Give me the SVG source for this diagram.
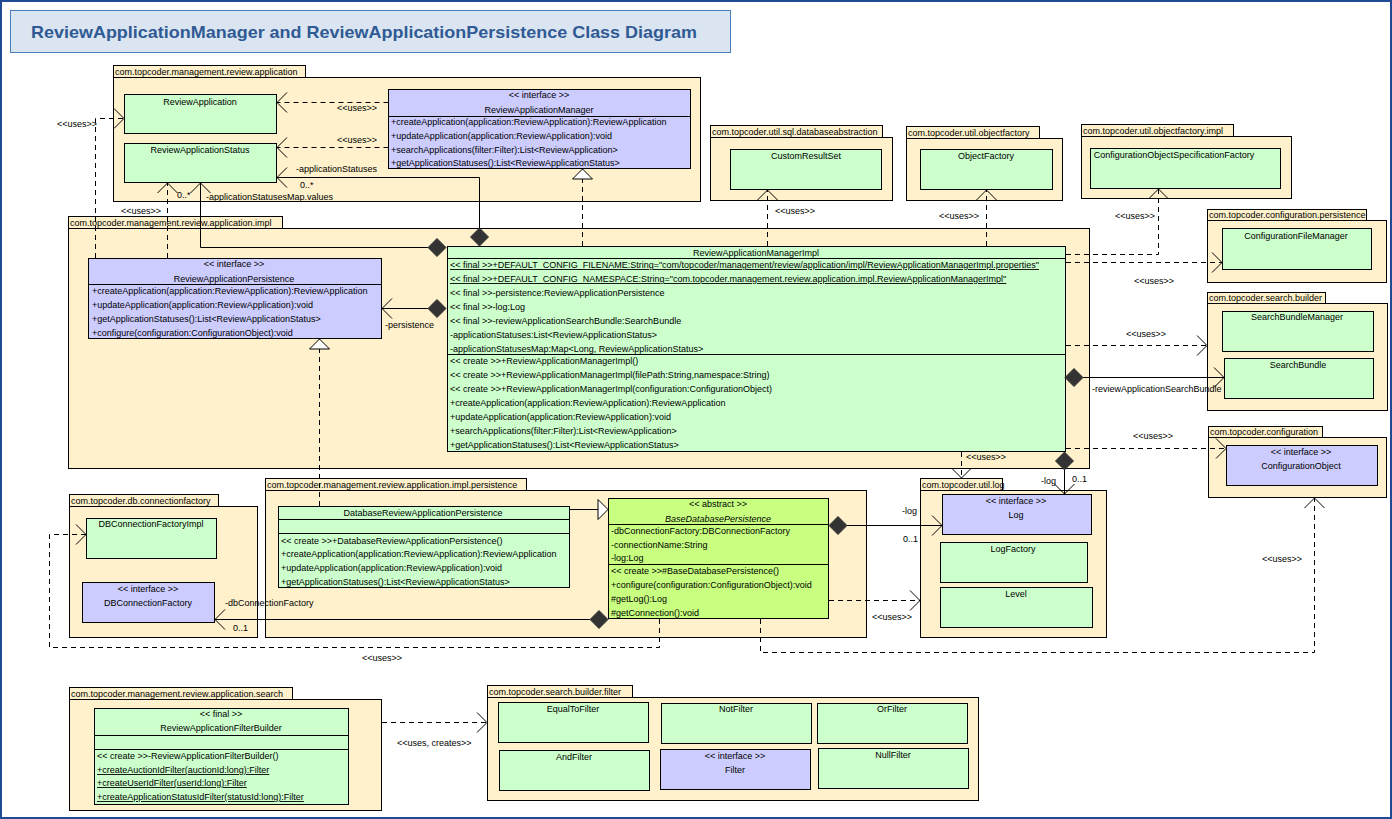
<svg xmlns="http://www.w3.org/2000/svg" width="1392" height="819" viewBox="0 0 1392 819">
<defs>
<style>
.pkg{fill:#fef1cb;stroke:#000;stroke-width:1}
.cls{fill:#ccffcc;stroke:#000;stroke-width:1}
.ifc{fill:#ccccff;stroke:#000;stroke-width:1}
.abs{fill:#c8ff80;stroke:#000;stroke-width:1}
.sep{stroke:#000;stroke-width:1}
text{font-family:"Liberation Sans",Arial,sans-serif;font-size:9px;fill:#000}
.c{text-anchor:middle}
.u{text-decoration:underline}
.i{font-style:italic}
.dash{stroke:#000;fill:none;stroke-width:1;stroke-dasharray:5,4}
.solid{stroke:#000;fill:none;stroke-width:1}
.dia{fill:#333;stroke:#333}
</style>
<marker id="open" markerUnits="userSpaceOnUse" markerWidth="12" markerHeight="24" viewBox="0 0 12 24" refX="11" refY="12" orient="auto">
<path d="M1,2 L11,12 L1,22" fill="none" stroke="#000" stroke-width="1"/>
</marker>
<marker id="tri" markerUnits="userSpaceOnUse" markerWidth="12" markerHeight="24" viewBox="0 0 12 24" refX="11" refY="12" orient="auto">
<path d="M1,2 L11,12 L1,22 Z" fill="#fff" stroke="#000" stroke-width="1"/>
</marker>
</defs>
<rect x="0" y="0" width="1392" height="819" fill="#fff"/>
<rect x="1" y="1" width="1390" height="817" fill="none" stroke="#1f4a94" stroke-width="2"/>
<g id="title">
<rect x="10.5" y="10.5" width="720" height="42" fill="#dbe5f1" stroke="#4a7ebb"/>
<text x="31" y="38" style="font-size:17px;font-weight:bold;fill:#2f5a94" textLength="666" lengthAdjust="spacingAndGlyphs">ReviewApplicationManager and ReviewApplicationPersistence Class Diagram</text>
</g>

<g id="pkg-review-application">
<rect class="pkg" x="113.5" y="65.5" width="192" height="12"/>
<rect class="pkg" x="113.5" y="77.5" width="587" height="124"/>
<text x="115" y="75">com.topcoder.management.review.application</text>
</g>
<g id="pkg-impl">
<rect class="pkg" x="68.5" y="216.5" width="214" height="12"/>
<rect class="pkg" x="68.5" y="228.5" width="1021" height="240"/>
<text x="70" y="226">com.topcoder.management.review.application.impl</text>
</g>
<g id="pkg-databaseabstraction">
<rect class="pkg" x="710.5" y="125.5" width="172" height="12"/>
<rect class="pkg" x="710.5" y="137.5" width="182" height="63"/>
<text x="712" y="135">com.topcoder.util.sql.databaseabstraction</text>
</g>
<g id="pkg-objectfactory">
<rect class="pkg" x="906.5" y="126.5" width="133" height="12"/>
<rect class="pkg" x="906.5" y="138.5" width="156" height="62"/>
<text x="908" y="136">com.topcoder.util.objectfactory</text>
</g>
<g id="pkg-objectfactory-impl">
<rect class="pkg" x="1081.5" y="124.5" width="152" height="12"/>
<rect class="pkg" x="1081.5" y="136.5" width="210" height="62"/>
<text x="1083" y="134">com.topcoder.util.objectfactory.impl</text>
</g>
<g id="pkg-configuration-persistence">
<rect class="pkg" x="1207.5" y="209.5" width="159" height="11"/>
<rect class="pkg" x="1207.5" y="220.5" width="179" height="62"/>
<text x="1209" y="218">com.topcoder.configuration.persistence</text>
</g>
<g id="pkg-search-builder">
<rect class="pkg" x="1207.5" y="292.5" width="118" height="11"/>
<rect class="pkg" x="1207.5" y="303.5" width="180" height="107"/>
<text x="1209" y="301">com.topcoder.search.builder</text>
</g>
<g id="pkg-configuration">
<rect class="pkg" x="1208.5" y="426.5" width="114" height="11"/>
<rect class="pkg" x="1208.5" y="437.5" width="178" height="60"/>
<text x="1210" y="435">com.topcoder.configuration</text>
</g>
<g id="pkg-log">
<rect class="pkg" x="920.5" y="478.5" width="82" height="12"/>
<rect class="pkg" x="920.5" y="490.5" width="186" height="147"/>
<text x="922" y="488">com.topcoder.util.log</text>
</g>
<g id="pkg-persistence">
<rect class="pkg" x="265.5" y="478.5" width="261" height="12"/>
<rect class="pkg" x="265.5" y="490.5" width="601" height="147"/>
<text x="267" y="488">com.topcoder.management.review.application.impl.persistence</text>
</g>
<g id="pkg-connectionfactory">
<rect class="pkg" x="69.5" y="494.5" width="149" height="12"/>
<rect class="pkg" x="69.5" y="506.5" width="188" height="131"/>
<text x="71" y="504">com.topcoder.db.connectionfactory</text>
</g>
<g id="pkg-search">
<rect class="pkg" x="69.5" y="687.5" width="223" height="12"/>
<rect class="pkg" x="69.5" y="699.5" width="312" height="111"/>
<text x="71" y="697">com.topcoder.management.review.application.search</text>
</g>
<g id="pkg-filter">
<rect class="pkg" x="487.5" y="685.5" width="145" height="12"/>
<rect class="pkg" x="487.5" y="697.5" width="491" height="103"/>
<text x="489" y="695">com.topcoder.search.builder.filter</text>
</g>

<g id="ReviewApplication">
<rect class="cls" x="124.5" y="94.5" width="152" height="39"/>
<text class="c" x="200" y="105">ReviewApplication</text>
</g>
<g id="ReviewApplicationStatus">
<rect class="cls" x="124.5" y="143.5" width="152" height="39"/>
<text class="c" x="200" y="153">ReviewApplicationStatus</text>
</g>
<g id="ReviewApplicationManager">
<rect class="ifc" x="388.5" y="89.5" width="302" height="79"/>
<text class="c" x="539" y="98">&lt;&lt; interface &gt;&gt;</text>
<text class="c" x="539" y="113">ReviewApplicationManager</text>
<line class="sep" x1="388.5" y1="116.5" x2="690.5" y2="116.5"/>
<text x="391" y="125">+createApplication(application:ReviewApplication):ReviewApplication</text>
<text x="391" y="139">+updateApplication(application:ReviewApplication):void</text>
<text x="391" y="153">+searchApplications(filter:Filter):List&lt;ReviewApplication&gt;</text>
<text x="391" y="166">+getApplicationStatuses():List&lt;ReviewApplicationStatus&gt;</text>
</g>
<g id="ReviewApplicationPersistence">
<rect class="ifc" x="88.5" y="258.5" width="293" height="80"/>
<text class="c" x="234" y="267">&lt;&lt; interface &gt;&gt;</text>
<text class="c" x="234" y="282">ReviewApplicationPersistence</text>
<line class="sep" x1="88.5" y1="284.5" x2="381.5" y2="284.5"/>
<text x="92" y="294">+createApplication(application:ReviewApplication):ReviewApplication</text>
<text x="92" y="308">+updateApplication(application:ReviewApplication):void</text>
<text x="92" y="322">+getApplicationStatuses():List&lt;ReviewApplicationStatus&gt;</text>
<text x="92" y="336">+configure(configuration:ConfigurationObject):void</text>
</g>
<g id="ReviewApplicationManagerImpl">
<rect class="cls" x="447.5" y="246.5" width="618" height="205"/>
<text class="c" x="756" y="256">ReviewApplicationManagerImpl</text>
<line class="sep" x1="447.5" y1="258.5" x2="1065.5" y2="258.5"/>
<text class="u" x="450" y="268">&lt;&lt; final &gt;&gt;+DEFAULT_CONFIG_FILENAME:String="com/topcoder/management/review/application/impl/ReviewApplicationManagerImpl.properties"</text>
<text class="u" x="450" y="282">&lt;&lt; final &gt;&gt;+DEFAULT_CONFIG_NAMESPACE:String="com.topcoder.management.review.application.impl.ReviewApplicationManagerImpl"</text>
<text x="450" y="296">&lt;&lt; final &gt;&gt;-persistence:ReviewApplicationPersistence</text>
<text x="450" y="310">&lt;&lt; final &gt;&gt;-log:Log</text>
<text x="450" y="324">&lt;&lt; final &gt;&gt;-reviewApplicationSearchBundle:SearchBundle</text>
<text x="450" y="338">-applicationStatuses:List&lt;ReviewApplicationStatus&gt;</text>
<text x="450" y="352">-applicationStatusesMap:Map&lt;Long, ReviewApplicationStatus&gt;</text>
<line class="sep" x1="447.5" y1="354.5" x2="1065.5" y2="354.5"/>
<text x="450" y="364">&lt;&lt; create &gt;&gt;+ReviewApplicationManagerImpl()</text>
<text x="450" y="378">&lt;&lt; create &gt;&gt;+ReviewApplicationManagerImpl(filePath:String,namespace:String)</text>
<text x="450" y="392">&lt;&lt; create &gt;&gt;+ReviewApplicationManagerImpl(configuration:ConfigurationObject)</text>
<text x="450" y="406">+createApplication(application:ReviewApplication):ReviewApplication</text>
<text x="450" y="420">+updateApplication(application:ReviewApplication):void</text>
<text x="450" y="434">+searchApplications(filter:Filter):List&lt;ReviewApplication&gt;</text>
<text x="450" y="448">+getApplicationStatuses():List&lt;ReviewApplicationStatus&gt;</text>
</g>
<g id="CustomResultSet">
<rect class="cls" x="730.5" y="149.5" width="151" height="40"/>
<text class="c" x="806" y="159">CustomResultSet</text>
</g>
<g id="ObjectFactory">
<rect class="cls" x="920.5" y="149.5" width="132" height="40"/>
<text class="c" x="986" y="159">ObjectFactory</text>
</g>
<g id="ConfigurationObjectSpecificationFactory">
<rect class="cls" x="1090.5" y="148.5" width="190" height="40"/>
<text class="c" x="1174" y="158">ConfigurationObjectSpecificationFactory</text>
</g>
<g id="ConfigurationFileManager">
<rect class="cls" x="1222.5" y="228.5" width="149" height="41"/>
<text class="c" x="1296" y="239">ConfigurationFileManager</text>
</g>
<g id="SearchBundleManager">
<rect class="cls" x="1222.5" y="311.5" width="151" height="40"/>
<text class="c" x="1297" y="320">SearchBundleManager</text>
</g>
<g id="SearchBundle">
<rect class="cls" x="1224.5" y="358.5" width="149" height="40"/>
<text class="c" x="1298" y="368">SearchBundle</text>
</g>
<g id="ConfigurationObject">
<rect class="ifc" x="1226.5" y="445.5" width="151" height="40"/>
<text class="c" x="1301" y="455">&lt;&lt; interface &gt;&gt;</text>
<text class="c" x="1301" y="469">ConfigurationObject</text>
</g>
<g id="Log">
<rect class="ifc" x="942.5" y="494.5" width="149" height="40"/>
<text class="c" x="1016" y="504">&lt;&lt; interface &gt;&gt;</text>
<text class="c" x="1016" y="518">Log</text>
</g>
<g id="LogFactory">
<rect class="cls" x="940.5" y="542.5" width="147" height="40"/>
<text class="c" x="1013" y="552">LogFactory</text>
</g>
<g id="Level">
<rect class="cls" x="940.5" y="587.5" width="152" height="40"/>
<text class="c" x="1016" y="597">Level</text>
</g>
<g id="DatabaseReviewApplicationPersistence">
<rect class="cls" x="278.5" y="506.5" width="291" height="81"/>
<text class="c" x="423" y="516">DatabaseReviewApplicationPersistence</text>
<line class="sep" x1="278.5" y1="519.5" x2="569.5" y2="519.5"/>
<line class="sep" x1="278.5" y1="533.5" x2="569.5" y2="533.5"/>
<text x="281" y="544">&lt;&lt; create &gt;&gt;+DatabaseReviewApplicationPersistence()</text>
<text x="281" y="557">+createApplication(application:ReviewApplication):ReviewApplication</text>
<text x="281" y="571">+updateApplication(application:ReviewApplication):void</text>
<text x="281" y="585">+getApplicationStatuses():List&lt;ReviewApplicationStatus&gt;</text>
</g>
<g id="BaseDatabasePersistence">
<rect class="abs" x="608.5" y="498.5" width="220" height="120"/>
<text class="c" x="718" y="507">&lt;&lt; abstract &gt;&gt;</text>
<text class="c i" x="718" y="522">BaseDatabasePersistence</text>
<line class="sep" x1="608.5" y1="524.5" x2="828.5" y2="524.5"/>
<text x="611" y="534">-dbConnectionFactory:DBConnectionFactory</text>
<text x="611" y="548">-connectionName:String</text>
<text x="611" y="561">-log:Log</text>
<line class="sep" x1="608.5" y1="564.5" x2="828.5" y2="564.5"/>
<text x="611" y="574">&lt;&lt; create &gt;&gt;#BaseDatabasePersistence()</text>
<text x="611" y="588">+configure(configuration:ConfigurationObject):void</text>
<text x="611" y="602">#getLog():Log</text>
<text x="611" y="616">#getConnection():void</text>
</g>
<g id="DBConnectionFactoryImpl">
<rect class="cls" x="86.5" y="518.5" width="130" height="40"/>
<text class="c" x="151" y="527">DBConnectionFactoryImpl</text>
</g>
<g id="DBConnectionFactory">
<rect class="ifc" x="82.5" y="582.5" width="132" height="40"/>
<text class="c" x="148" y="592">&lt;&lt; interface &gt;&gt;</text>
<text class="c" x="148" y="606">DBConnectionFactory</text>
</g>
<g id="ReviewApplicationFilterBuilder">
<rect class="cls" x="94.5" y="708.5" width="254" height="96"/>
<text class="c" x="221" y="717">&lt;&lt; final &gt;&gt;</text>
<text class="c" x="221" y="731">ReviewApplicationFilterBuilder</text>
<line class="sep" x1="94.5" y1="735.5" x2="348.5" y2="735.5"/>
<line class="sep" x1="94.5" y1="749.5" x2="348.5" y2="749.5"/>
<text x="97" y="759">&lt;&lt; create &gt;&gt;-ReviewApplicationFilterBuilder()</text>
<text class="u" x="97" y="773">+createAuctionIdFilter(auctionId:long):Filter</text>
<text class="u" x="97" y="786">+createUserIdFilter(userId:long):Filter</text>
<text class="u" x="97" y="800">+createApplicationStatusIdFilter(statusId:long):Filter</text>
</g>
<g id="EqualToFilter">
<rect class="cls" x="498.5" y="702.5" width="150" height="40"/>
<text class="c" x="573" y="712">EqualToFilter</text>
</g>
<g id="NotFilter">
<rect class="cls" x="661.5" y="703.5" width="150" height="40"/>
<text class="c" x="736" y="712">NotFilter</text>
</g>
<g id="OrFilter">
<rect class="cls" x="817.5" y="703.5" width="150" height="40"/>
<text class="c" x="892" y="712">OrFilter</text>
</g>
<g id="AndFilter">
<rect class="cls" x="499.5" y="750.5" width="150" height="40"/>
<text class="c" x="574" y="760">AndFilter</text>
</g>
<g id="Filter">
<rect class="ifc" x="660.5" y="749.5" width="150" height="40"/>
<text class="c" x="735" y="759">&lt;&lt; interface &gt;&gt;</text>
<text class="c" x="735" y="773">Filter</text>
</g>
<g id="NullFilter">
<rect class="cls" x="818.5" y="748.5" width="150" height="40"/>
<text class="c" x="893" y="758">NullFilter</text>
</g>

<g id="connectors">
<path class="dash" d="M388.5,102.5 L277,102.5" marker-end="url(#open)"/>
<text x="337" y="111">&lt;&lt;uses&gt;&gt;</text>
<path class="dash" d="M388.5,147.5 L277,147.5" marker-end="url(#open)"/>
<text x="337" y="143">&lt;&lt;uses&gt;&gt;</text>
<path class="solid" d="M479.5,228 L479.5,177.5 L277,177.5" marker-end="url(#open)"/>
<polygon class="dia" points="470.5,237 479.5,228 488.5,237 479.5,246"/>
<text x="296" y="172">-applicationStatuses</text>
<text x="300" y="188">0..*</text>
<path class="solid" d="M428,247.5 L200.5,247.5 L200.5,183" marker-end="url(#open)"/>
<polygon class="dia" points="428,247.5 437,238.5 446,247.5 437,256.5"/>
<text x="177" y="198">0..*</text>
<text x="206" y="200">-applicationStatusesMap.values</text>
<path class="dash" d="M95.5,258 L95.5,118.5 L124,118.5" marker-end="url(#open)"/>
<text x="57" y="127">&lt;&lt;uses&gt;&gt;</text>
<path class="dash" d="M167.5,258 L167.5,183" marker-end="url(#open)"/>
<text x="121" y="214">&lt;&lt;uses&gt;&gt;</text>
<path class="dash" d="M319.5,506 L319.5,339" marker-end="url(#tri)"/>
<path class="solid" d="M428,308.5 L382,308.5" marker-end="url(#open)"/>
<polygon class="dia" points="428,308.5 437,299.5 446,308.5 437,317.5"/>
<text x="385" y="328">-persistence</text>
<path class="dash" d="M582.5,246 L582.5,169" marker-end="url(#tri)"/>
<path class="dash" d="M767.5,246 L767.5,190" marker-end="url(#open)"/>
<text x="775" y="214">&lt;&lt;uses&gt;&gt;</text>
<path class="dash" d="M986.5,246 L986.5,190" marker-end="url(#open)"/>
<text x="939" y="219">&lt;&lt;uses&gt;&gt;</text>
<path class="dash" d="M1066,254.5 L1158.5,254.5 L1158.5,189" marker-end="url(#open)"/>
<text x="1115" y="219">&lt;&lt;uses&gt;&gt;</text>
<path class="dash" d="M1066,262.5 L1222,262.5" marker-end="url(#open)"/>
<text x="1134" y="284">&lt;&lt;uses&gt;&gt;</text>
<path class="dash" d="M1066,345.5 L1207,345.5" marker-end="url(#open)"/>
<text x="1126" y="337">&lt;&lt;uses&gt;&gt;</text>
<path class="solid" d="M1083,377.5 L1224,377.5" marker-end="url(#open)"/>
<polygon class="dia" points="1065,377.5 1074,368.5 1083,377.5 1074,386.5"/>
<text x="1092" y="392">-reviewApplicationSearchBundle</text>
<path class="dash" d="M1066,448.5 L1226,448.5" marker-end="url(#open)"/>
<text x="1133" y="439">&lt;&lt;uses&gt;&gt;</text>
<path class="solid" d="M1064.5,470 L1064.5,494" marker-end="url(#open)"/>
<polygon class="dia" points="1055.5,461 1064.5,452 1073.5,461 1064.5,470"/>
<text x="1041" y="484">-log</text>
<text x="1072" y="482">0..1</text>
<path class="dash" d="M961.5,452 L961.5,478" marker-end="url(#open)"/>
<text x="966" y="460">&lt;&lt;uses&gt;&gt;</text>
<path class="solid" d="M847,525.5 L942,525.5" marker-end="url(#open)"/>
<polygon class="dia" points="829,525.5 838,516.5 847,525.5 838,534.5"/>
<text x="902" y="514">-log</text>
<text x="903" y="542">0..1</text>
<path class="solid" d="M569.5,509.5 L608,509.5" marker-end="url(#tri)"/>
<path class="solid" d="M590,619.5 L215,619.5" marker-end="url(#open)"/>
<polygon class="dia" points="590,619.5 599,610.5 608,619.5 599,628.5"/>
<text x="225" y="606">-dbConnectionFactory</text>
<text x="233" y="631">0..1</text>
<path class="dash" d="M659.5,619 L659.5,647.5 L49.5,647.5 L49.5,534.5 L86,534.5" marker-end="url(#open)"/>
<text x="362" y="661">&lt;&lt;uses&gt;&gt;</text>
<path class="dash" d="M829,600.5 L920,600.5" marker-end="url(#open)"/>
<text x="872" y="620">&lt;&lt;uses&gt;&gt;</text>
<path class="dash" d="M760.5,619 L760.5,652.5 L1314.5,652.5 L1314.5,498" marker-end="url(#open)"/>
<text x="1262" y="562">&lt;&lt;uses&gt;&gt;</text>
<path class="dash" d="M382,722.5 L487,722.5" marker-end="url(#open)"/>
<text x="397" y="746">&lt;&lt;uses, creates&gt;&gt;</text>
</g>
</svg>
